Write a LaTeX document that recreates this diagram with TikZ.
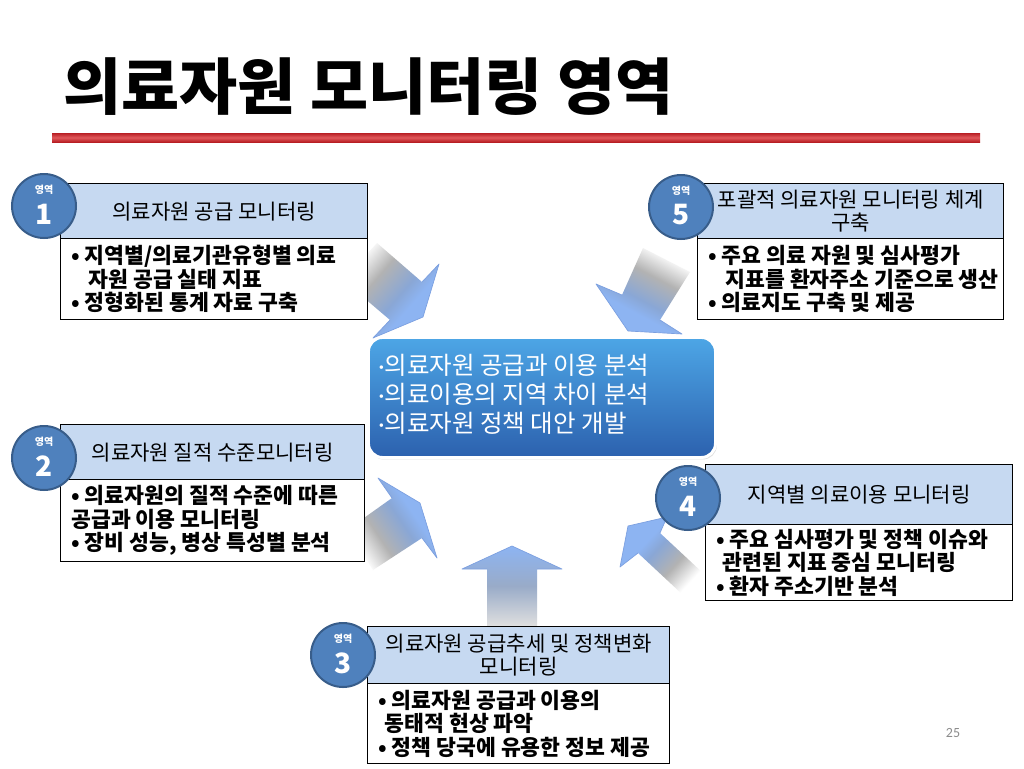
\documentclass[tikz,border=0pt]{standalone}
\usepackage{fontspec}
\usepackage{graphicx}
\newfontfamily\kr{Noto Sans CJK KR}
\newfontfamily\pgnumfont{Carlito}
\usetikzlibrary{shadows}
\definecolor{hdrblue}{HTML}{C6D9F1}
\definecolor{circblue}{HTML}{4F81BD}
\definecolor{circdark}{HTML}{385D8A}
\definecolor{arrblue}{HTML}{8DB4F2}
\definecolor{arredge}{HTML}{7B9FE0}
\definecolor{ctop}{HTML}{4DA6E6}
\definecolor{cbot}{HTML}{2C61AE}
\definecolor{redline}{HTML}{B81E24}
\definecolor{redmid}{HTML}{E0585B}
\definecolor{pggray}{HTML}{8C8C8C}
\pgfdeclareverticalshading{arrsh}{100bp}{color(0bp)=(white); color(26bp)=(white); color(40bp)=(gray!60); color(55bp)=(arrblue!75!gray); color(63bp)=(arrblue); color(100bp)=(arrblue)}
\tikzset{
  hdr/.style={rectangle, draw=black, line width=1.1pt, fill=hdrblue, anchor=north west, inner sep=0pt,
    align=center, font=\kr\fontsize{15.8}{17.3}\selectfont},
  bodybox/.style={rectangle, draw=black, line width=1.1pt, fill=white, anchor=north west, inner sep=0pt},
  bodytext/.style={anchor=west, inner sep=0pt, align=left, font=\kr\bfseries\fontsize{16.2}{17.6}\selectfont},
  circ/.style={circle, draw=circdark, line width=1.5pt, fill=circblue, minimum size=48pt, inner sep=0pt},
  circlabel/.style={inner sep=0pt, text=white, font=\kr\bfseries\fontsize{7.5}{8}\selectfont},
  circnum/.style={inner sep=0pt, text=white, font=\kr\bfseries\fontsize{21}{21}\selectfont},
  arrowfill/.style={shading=arrsh},
  arrowhead/.style={draw=arredge, line width=0.5pt, line join=round},
  corebox/.style={rectangle, rounded corners=10.5pt, draw=white, line width=2.2pt, top color=ctop, bottom color=cbot,
    anchor=north west, inner sep=0pt, drop shadow={opacity=0.25, shadow xshift=1pt, shadow yshift=-1.5pt}},
  coretext/.style={anchor=west, inner sep=0pt, align=left, text=white, font=\kr\fontsize{18.4}{21.75}\selectfont},
}
\newcommand{\mdot}{{\pgnumfont\symbol{"00B7}}}
\newcommand{\areacircle}[3]{% name, position, number
  \node[circ] (#1) at #2 {};
  \node[circlabel] (#1l) at ([yshift=12.5pt]#1.center) {영역};
  \node[circnum] (#1n) at ([yshift=-6pt]#1.center) {#3};
}
\begin{document}
\begin{tikzpicture}[x=0.75pt, y=-0.75pt]
\useasboundingbox (0,0) rectangle (1024,768);
\fill[white] (0,0) rectangle (1024,768);

% title
\node[anchor=west, inner sep=0pt, font=\kr\bfseries\fontsize{46}{52}\selectfont] (title) at (63,87) {\scalebox{1.03}[1]{의료자원 모니터링 영역}};
\shade[top color=redline, bottom color=redline, middle color=redmid] (52,133) rectangle (980,142);

% arrows
% arrow 1 (from area 1, pointing down-right)
\shade[arrowfill, shading angle=-131] (377,243) -- (422,282) -- (439,264) -- (423,317) -- (373,338) -- (390,320) -- (343,280) -- cycle;
\draw[arrowhead] (422,282) -- (439,264) -- (423,317) -- (373,338) -- (390,320);
% arrow 5 (pointing down-left)
\shade[arrowfill, shading angle=152] (643,248) -- (622,295) -- (596,284) -- (628,331) -- (682,334) -- (660,320) -- (690,272) -- cycle;
\draw[arrowhead] (622,295) -- (596,284) -- (628,331) -- (682,334) -- (660,320);
% arrow 2 (pointing up-right)
\shade[arrowfill, shading angle=-56] (347,530) -- (392,498) -- (378,478) -- (420,503) -- (437,558) -- (422,538) -- (373,570) -- cycle;
\draw[arrowhead] (392,498) -- (378,478) -- (420,503) -- (437,558) -- (422,538);
% arrow 4 (pointing up-left)
\shade[arrowfill, shading angle=47] (704,574) -- (660,533) -- (667,517) -- (628,526) -- (620,567) -- (638,553) -- (682,594) -- cycle;
\draw[arrowhead] (660,533) -- (667,517) -- (628,526) -- (620,567) -- (638,553);
% arrow 3 (pointing up)
\shade[top color=arrblue, bottom color=gray!25, middle color=arrblue!55!gray!85] (512,546) -- (562,569) -- (537,569) -- (537,626) -- (487,626) -- (487,569) -- (462,569) -- cycle;
\draw[arrowhead] (487,569) -- (462,569) -- (512,546) -- (562,569) -- (537,569);

% centre box
\node[corebox, minimum width=260.25pt, minimum height=90pt] (core) at (367,336) {};
\node[coretext] (coret) at ([xshift=8.25pt, yshift=2pt]core.west) {\mdot 의료자원 공급과 이용 분석\\\mdot 의료이용의 지역 차이 분석\\\mdot 의료자원 정책 대안 개발};

% area 1
\node[hdr, minimum width=230.25pt, minimum height=41.25pt] (h1) at (60,183) {의료자원 공급 모니터링};
\node[bodybox, minimum width=230.25pt, minimum height=60.75pt] (b1) at (60,238) {};
\node[bodytext] (b1t) at ([xshift=8.25pt]b1.west) {• 지역별/의료기관유형별 의료\\\hspace*{0.8em}자원 공급 실태 지표\\• 정형화된 통계 자료 구축};
\areacircle{c1}{(44,206)}{1}

% area 5
\node[hdr, minimum width=229.5pt, minimum height=41.25pt] (h5) at (697,183) {포괄적 의료자원 모니터링 체계\\구축};
\node[bodybox, minimum width=229.5pt, minimum height=60.75pt] (b5) at (697,238) {};
\node[bodytext] (b5t) at ([xshift=8.25pt]b5.west) {• 주요 의료 자원 및 심사평가\\\hspace*{0.8em}지표를 환자주소 기준으로 생산\\• 의료지도 구축 및 제공};
\areacircle{c5}{(681,207)}{5}

% area 2
\node[hdr, minimum width=228pt, minimum height=41.25pt] (h2) at (60,424) {의료자원 질적 수준모니터링};
\node[bodybox, minimum width=228pt, minimum height=61.5pt] (b2) at (60,479) {};
\node[bodytext] (b2t) at ([xshift=8.25pt]b2.west) {• 의료자원의 질적 수준에 따른\\공급과 이용 모니터링\\• 장비 성능, 병상 특성별 분석};
\areacircle{c2}{(44,458)}{2}

% area 4
\node[hdr, minimum width=230.25pt, minimum height=45pt] (h4) at (705,464) {지역별 의료이용 모니터링};
\node[bodybox, minimum width=230.25pt, minimum height=57pt] (b4) at (705,524) {};
\node[bodytext] (b4t) at ([xshift=8.25pt]b4.west) {• 주요 심사평가 및 정책 이슈와\\\hspace*{0.3em}관련된 지표 중심 모니터링\\• 환자 주소기반 분석};
\areacircle{c4}{(688,498)}{4}

% area 3
\node[hdr, minimum width=226.5pt, minimum height=42.75pt] (h3) at (367,626) {의료자원 공급추세 및 정책변화\\모니터링};
\node[bodybox, minimum width=226.5pt, minimum height=60pt] (b3) at (367,683) {};
\node[bodytext] (b3t) at ([xshift=8.25pt]b3.west) {• 의료자원 공급과 이용의\\\hspace*{0.3em}동태적 현상 파악\\• 정책 당국에 유용한 정보 제공};
\areacircle{c3}{(343,655)}{3}

% page number
\node[font=\pgnumfont\fontsize{10.5}{12}\selectfont, text=pggray, inner sep=0pt] (pg) at (953,733) {25};
\end{tikzpicture}
\end{document}
